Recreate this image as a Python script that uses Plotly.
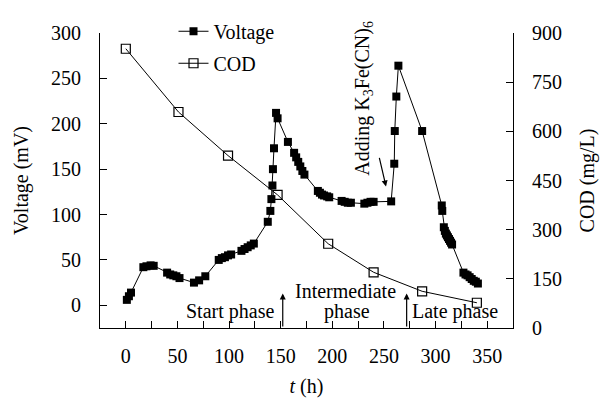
import plotly.graph_objects as go

# Voltage series (left axis)
volt_t = [1, 3, 5, 17, 20, 24, 27, 40, 43, 46, 49, 52, 66, 71, 77,
          90, 93, 96, 99, 102, 112, 115, 118, 121, 124,
          137.5, 140, 141, 142, 142.5, 143.5, 145.5, 147,
          157, 163, 165, 167, 169, 171, 173,
          186, 188, 190, 192, 195, 197, 209, 212, 215, 218,
          231, 234, 237, 240, 257, 260, 260.5, 262, 264, 287,
          306, 306.5, 308, 309, 310, 311, 312, 313, 314, 315, 316,
          327, 329, 331, 333, 335, 337, 339, 341]
volt_v = [6, 10, 14, 42, 43, 44, 43.5, 36, 34, 33, 32, 30, 25, 27.5, 32,
          50, 52, 53, 55, 56, 60, 62, 64, 66, 68,
          92, 104, 117, 132, 150, 173, 212, 206,
          180, 168, 163, 158, 153, 148, 144,
          126, 124, 122, 121, 120, 119, 115, 114, 113, 113,
          112, 113, 114, 114, 114.5, 156, 192, 230, 264, 192,
          110, 104, 86, 82, 79, 77, 75, 73, 71, 69, 67,
          36, 34, 33, 31, 29, 27, 26, 24]

# COD series (right axis)
cod_t = [0, 51, 99, 147, 196, 240, 287, 340]
cod_v = [852, 659, 526, 406, 257, 170, 112, 77]

x_ticks = [0, 50, 100, 150, 200, 250, 300, 350]
x_minor = [25, 75, 125, 175, 225, 275, 325]
y1_ticks = [0, 50, 100, 150, 200, 250, 300]
y2_ticks = [0, 150, 300, 450, 600, 750, 900]

FONT = "Liberation Serif, Times New Roman, serif"

fig = go.Figure()
fig.add_trace(go.Scatter(
    x=volt_t, y=volt_v, name="Voltage", mode="lines+markers",
    legendgroup="v",
    line=dict(color="black", width=1),
    marker=dict(symbol="square", size=8, color="black"),
    yaxis="y"))
fig.add_trace(go.Scatter(
    x=cod_t, y=cod_v, name="COD", mode="lines+markers",
    legendgroup="c",
    line=dict(color="black", width=1),
    marker=dict(symbol="square-open", size=9, color="black", line=dict(width=1.2)),
    yaxis="y2"))

axis_common = dict(showline=True, linecolor="black", linewidth=1.2,
                   ticks="inside", ticklen=7, tickcolor="black",
                   showgrid=False, zeroline=False, automargin=False,
                   tickfont=dict(family=FONT, size=20, color="black"))

fig.update_layout(
    width=600, height=403,
    margin=dict(l=100, r=87, t=22, b=75),
    paper_bgcolor="white", plot_bgcolor="white",
    font=dict(family=FONT, size=20, color="black"),
    showlegend=True,
    legend=dict(x=0.178, y=1.072, xanchor="left", yanchor="top",
                bgcolor="rgba(0,0,0,0)", font=dict(family=FONT, size=20),
                itemwidth=30, tracegroupgap=3, traceorder="grouped"),
    xaxis=dict(range=[-25, 375], tickmode="array", tickvals=x_ticks,
               minor=dict(tickmode="array", tickvals=x_minor, ticks="inside",
                          ticklen=7, tickcolor="black"),
               ticklabelstandoff=10,
               title=dict(text="<i>t</i> (h)", font=dict(family=FONT, size=20), standoff=12),
               **axis_common),
    yaxis=dict(range=[-25, 300], tickmode="array", tickvals=y1_ticks,
               ticklabelstandoff=14,
               title=dict(text="Voltage (mV)", font=dict(family=FONT, size=20), standoff=16),
               **axis_common),
    yaxis2=dict(range=[0, 900], tickmode="array", tickvals=y2_ticks,
                overlaying="y", side="right", anchor="x",
                ticklabelstandoff=14,
                title=dict(text="COD (mg/L)", font=dict(family=FONT, size=20), standoff=18),
                **axis_common),
)

ann_font = dict(family=FONT, size=20, color="black")
# phase labels
fig.add_annotation(x=101, y=-6.5, xref="x", yref="y", text="Start phase",
                   showarrow=False, font=ann_font)
fig.add_annotation(x=213, y=16, xref="x", yref="y", text="Intermediate",
                   showarrow=False, font=ann_font)
fig.add_annotation(x=214, y=-7, xref="x", yref="y", text="phase",
                   showarrow=False, font=ann_font)
fig.add_annotation(x=319, y=-7, xref="x", yref="y", text="Late phase",
                   showarrow=False, font=ann_font)
# phase arrows
for xa in [152, 272]:
    fig.add_annotation(x=xa, y=13, xref="x", yref="y", ax=xa, ay=-25,
                       axref="x", ayref="y", text="", showarrow=True,
                       arrowhead=2, arrowsize=1, arrowwidth=1.2, arrowcolor="black")
# K3Fe(CN)6 label and arrow
fig.add_annotation(x=230, y=228, xref="x", yref="y",
                   text="Adding K<sub>3</sub>Fe(CN)<sub>6</sub>",
                   textangle=-90, showarrow=False,
                   font=dict(family=FONT, size=20, color="black"))
fig.add_annotation(x=252, y=131, xref="x", yref="y", ax=-7, ay=-30,
                   text="", showarrow=True, arrowhead=2, arrowsize=1,
                   arrowwidth=1.2, arrowcolor="black")

fig.write_html("out.html", config={"displayModeBar": False},
               post_script="document.body.style.margin='0';document.body.style.padding='0';")
